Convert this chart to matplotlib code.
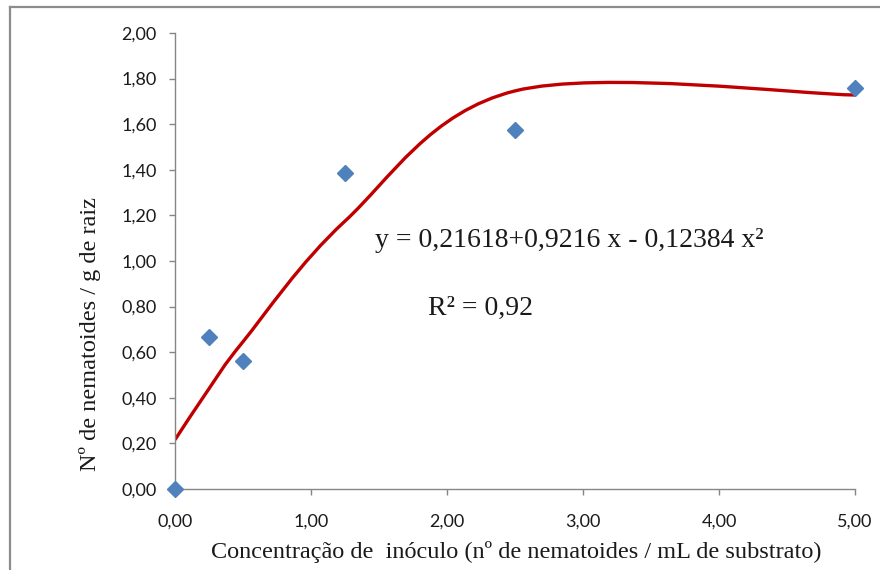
import numpy as np
import matplotlib
matplotlib.use("Agg")
import matplotlib.pyplot as plt
from matplotlib.path import Path
from matplotlib.patches import PathPatch
from matplotlib.lines import Line2D
from matplotlib.ticker import FuncFormatter, MultipleLocator

# dados observados
conc = [0.0, 0.25, 0.5, 1.25, 2.5, 5.0]
nemat = [0.0, 0.667, 0.56, 1.387, 1.575, 1.76]

# valores ajustados (linha suavizada)
ajust = [0.216, 0.44, 0.646, 1.175, 1.746, 1.728]

equacao = "y = 0,21618+0,9216 x - 0,12384 x²"
r2 = "R² = 0,92"
xlabel = "Concentração de  inóculo (nº de nematoides / mL de substrato)"
ylabel = "Nº de nematoides / g de raiz"

SERIF = "Liberation Serif"
SANS = "Lato"

fig = plt.figure(figsize=(8.8, 5.7), dpi=100)
ax = fig.add_axes([175 / 880, 1 - 489 / 570, 680 / 880, 456 / 570])

# moldura externa (estilo Excel)
fig.add_artist(Line2D([9.5 / 880, 1.0], [1 - 7 / 570] * 2, color="#8c8c8c", lw=1.6))
fig.add_artist(Line2D([9.5 / 880] * 2, [0.0, 1 - 7 / 570], color="#8c8c8c", lw=1.6))


def bezier_suave(xs, ys):
    # curva suavizada tipo Excel (Bezier cúbica com tensão 1/6)
    pts = np.column_stack([xs, ys])
    n = len(pts)
    verts = [pts[0]]
    codes = [Path.MOVETO]
    for i in range(n - 1):
        p0 = pts[max(i - 1, 0)]
        p1 = pts[i]
        p2 = pts[i + 1]
        p3 = pts[min(i + 2, n - 1)]
        c1 = p1 + (p2 - p0) / 6
        c2 = p2 - (p3 - p1) / 6
        verts += [c1, c2, p2]
        codes += [Path.CURVE4] * 3
    return Path(verts, codes)


ax.add_patch(PathPatch(bezier_suave(conc, ajust), facecolor="none",
                       edgecolor="#C00000", lw=2.4, zorder=2))
ax.plot(conc, nemat, "D", color="#4F81BD", markersize=8.5, zorder=3, clip_on=False)

ax.set_xlim(0, 5)
ax.set_ylim(0, 2)
ax.xaxis.set_major_locator(MultipleLocator(1))
ax.yaxis.set_major_locator(MultipleLocator(0.2))
fmt = FuncFormatter(lambda v, p: f"{v:.2f}".replace(".", ","))
ax.xaxis.set_major_formatter(fmt)
ax.yaxis.set_major_formatter(fmt)

for s in ["top", "right"]:
    ax.spines[s].set_visible(False)
for s in ["left", "bottom"]:
    ax.spines[s].set_color("#868686")
    ax.spines[s].set_linewidth(1.0)

ax.tick_params(axis="both", direction="out", length=4, width=1.0, color="#868686",
               labelsize=13, labelcolor="#1a1a1a")
ax.tick_params(axis="x", pad=14)
ax.tick_params(axis="y", pad=9)
for lab in ax.get_xticklabels() + ax.get_yticklabels():
    lab.set_fontfamily(SANS)

# rótulos dos eixos (posição como no Excel)
fig.text(516 / 880, 1 - 552 / 570, xlabel, fontsize=17.5, family=SERIF,
         color="#1a1a1a", ha="center", va="center")
fig.text(90 / 880, 1 - 334 / 570, ylabel, fontsize=17.5, family=SERIF,
         color="#1a1a1a", ha="center", va="center", rotation=90)

ax.text(1.47, 1.061, equacao, fontsize=20, family=SERIF, color="#1a1a1a", va="baseline")
ax.text(1.86, 0.763, r2, fontsize=20, family=SERIF, color="#1a1a1a", va="baseline")

fig.savefig("out.png", dpi=100)
